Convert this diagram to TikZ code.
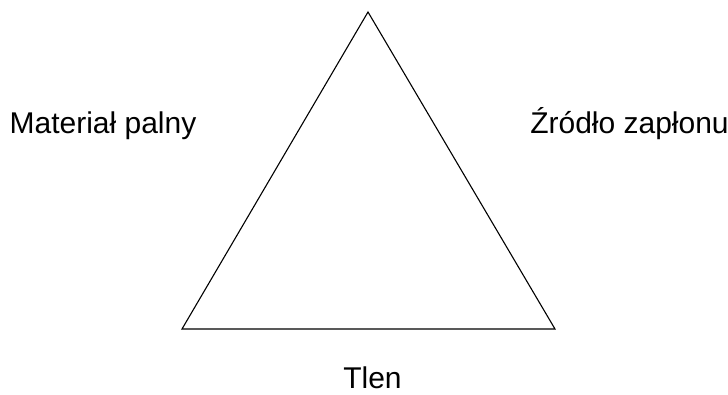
\documentclass[tikz,border=0pt]{standalone}
\usepackage{fontspec}
\setmainfont{Liberation Sans}
\usepackage{tikz}
\usetikzlibrary{positioning}

\begin{document}
\begin{tikzpicture}[x=1pt,y=-1pt,
  side/.style={draw=black,line width=1.1pt,line join=miter},
  factor/.style={font=\fontsize{30}{36}\selectfont,inner sep=0pt,anchor=base,text=black}
]
\useasboundingbox (0,0) rectangle (728,395);
\coordinate (apex) at (368,12);
\coordinate (bl) at (182,329);
\coordinate (br) at (555,329);
\draw[side] (apex) -- (bl) -- (br) -- cycle;
\node[factor] (fuel) at (103,134) {Materiał palny};
\node[factor] (ignition) at (629.5,134) {Źródło zapłonu};
\node[factor] (oxygen) at (372.5,388) {Tlen};
\end{tikzpicture}
\end{document}
